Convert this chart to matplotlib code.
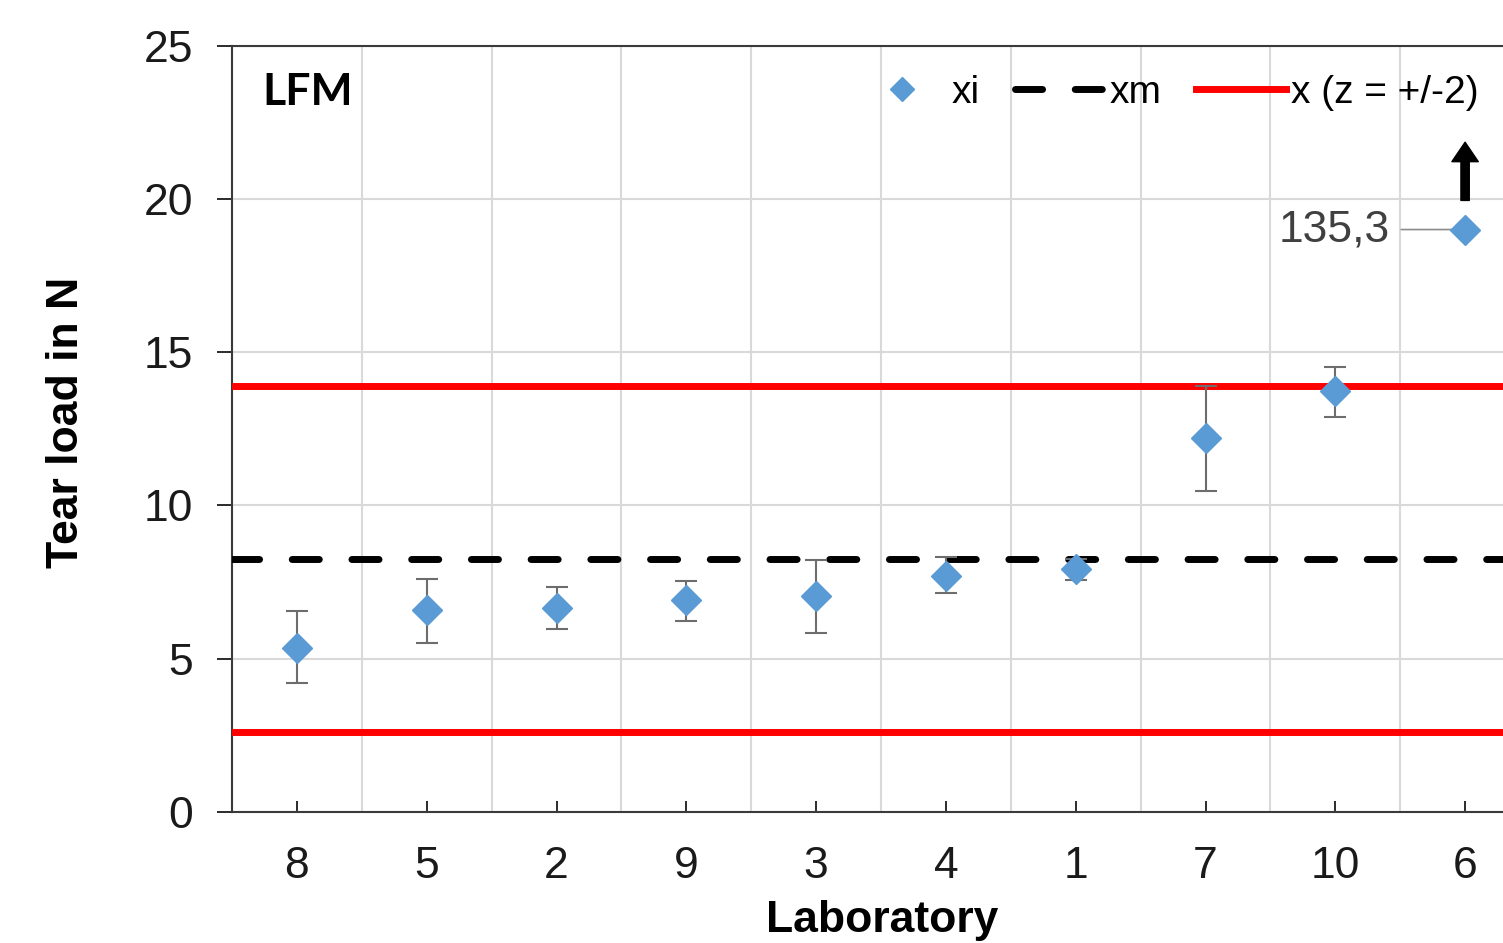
import numpy as np
import matplotlib
matplotlib.use("Agg")
import matplotlib.pyplot as plt

# Data
labs = ['8', '5', '2', '9', '3', '4', '1', '7', '10', '6']
xi = [5.35, 6.58, 6.64, 6.91, 7.04, 7.70, 7.91, 12.19, 13.74]
xi_hi = [6.55, 7.58, 7.32, 7.52, 8.21, 8.30, 8.25, 13.90, 14.51]
xi_lo = [4.19, 5.50, 5.95, 6.21, 5.82, 7.13, 7.55, 10.47, 12.88]
# lab 6 is off the scale (135,3 N) - drawn as a marker at the top with an arrow
lab6_value = "135,3"
lab6_shown = 19.0
xm = 8.24
z_upper = 13.89
z_lower = 2.60

plt.rcParams['font.family'] = ['Liberation Sans', 'DejaVu Sans']

fig = plt.figure(figsize=(15.03, 9.43), dpi=100)
ax = fig.add_axes([232 / 1503, 1 - 811.7 / 943, 1298 / 1503, 766 / 943])

blue = '#5b9bd5'
x = np.arange(len(xi))
yerr = [np.array(xi) - np.array(xi_lo), np.array(xi_hi) - np.array(xi)]

# reference lines
ax.axhline(z_upper, color='#ff0000', lw=5, zorder=3, label='x (z = +/-2)')
ax.axhline(z_lower, color='#ff0000', lw=5, zorder=3)
ax.axhline(xm, color='black', lw=5, linestyle=(0, (3.9, 4.7)),
           dash_capstyle='round', zorder=3, label='xm')

# error bars + points
ax.errorbar(x, xi, yerr=yerr, fmt='none', ecolor='#6d6d6d', elinewidth=1.5,
            capsize=8, capthick=1.5, zorder=4)
ax.plot(list(x) + [9], xi + [lab6_shown], linestyle='none', marker='D',
        ms=15, color=blue, mec=blue, zorder=5, label='xi')

# off-scale point annotation
ax.annotate(lab6_value, xy=(9, lab6_shown), xytext=(-75, 0),
            textcoords='offset pixels', ha='right', va='center',
            fontsize=32, color='#404040',
            arrowprops=dict(arrowstyle='-', color='#8c8c8c', lw=1.2,
                            shrinkA=6, shrinkB=0), zorder=2)
ax.annotate('', xy=(9, 21.85), xytext=(9, 19.95),
            arrowprops=dict(width=6, headwidth=19, headlength=14,
                            shrink=0, color='black'), zorder=6)

ax.set_xlim(-0.5, 9.5)
ax.set_ylim(0, 25)
ax.set_xticks(np.arange(len(labs)))
ax.set_xticklabels(labs)
ax.set_xticks(np.arange(-0.5, 10, 1), minor=True)
ax.set_yticks([0, 5, 10, 15, 20, 25])

ax.grid(True, axis='y', which='major', color='#d9d9d9', lw=1.5, zorder=0)
ax.grid(True, axis='x', which='minor', color='#d9d9d9', lw=1.5, zorder=0)
ax.set_axisbelow(True)

ax.tick_params(axis='y', direction='out', length=11, width=1.3,
               pad=17, labelsize=32, colors='#1a1a1a')
ax.tick_params(axis='x', which='major', direction='in', length=8, width=1.3,
               pad=25, labelsize=32, colors='#1a1a1a')
ax.tick_params(axis='x', which='minor', length=0)

for side in ['left', 'bottom', 'top']:
    ax.spines[side].set_color('#3a3a3a')
    ax.spines[side].set_linewidth(1.5)
ax.spines['right'].set_visible(False)

fig.text(67 / 1503, 1 - 422 / 943, 'Tear load in N', rotation=90,
         ha='center', va='center', fontsize=32, fontweight='bold')
fig.text(882 / 1503, 1 - 941 / 943, 'Laboratory', ha='center', va='bottom',
         fontsize=32, fontweight='bold')
ax.text(262 / 1503, 1 - 92 / 943, 'LFM', transform=fig.transFigure,
        ha='left', va='center', fontsize=32, fontweight='bold',
        family=['Lato', 'DejaVu Sans'])

handles, labels = ax.get_legend_handles_labels()
order = [labels.index('xi'), labels.index('xm'), labels.index('x (z = +/-2)')]
ax.legend([handles[i] for i in order], [labels[i] for i in order],
          loc='center left', bbox_to_anchor=(857 / 1503, 1 - 93 / 943),
          bbox_transform=fig.transFigure, ncol=3, frameon=False,
          fontsize=28, handlelength=2.3, handletextpad=0.13,
          columnspacing=0.9, borderpad=0, borderaxespad=0,
          markerscale=0.8, numpoints=1)

plt.savefig("out.png", dpi=100)
plt.close()
